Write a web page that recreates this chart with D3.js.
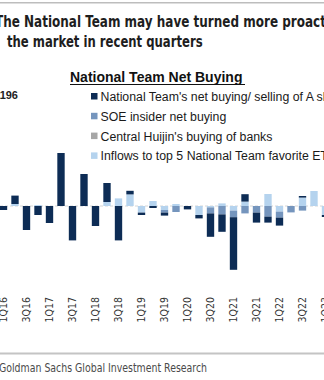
<!DOCTYPE html>
<html lang="en">
    <head>
        <meta charset="utf-8">
        <title>National Team Net Buying</title>
        <script type="text/javascript" src="https://cdn.jsdelivr.net/npm/d3@7"></script>
        <style>
            body { margin: 0; background: #fff; overflow: hidden; }
            svg { display: block; }
        </style>
    </head>
    <body>
        <div class="chart"></div>
        <script type="text/javascript">
            // quarters shown (RMB bn)
            var quarters = ["1Q16","2Q16","3Q16","4Q16","1Q17","2Q17","3Q17","4Q17",
                            "1Q18","2Q18","3Q18","4Q18","1Q19","2Q19","3Q19","4Q19",
                            "1Q20","2Q20","3Q20","4Q20","1Q21","2Q21","3Q21","4Q21",
                            "1Q22","2Q22","3Q22","4Q22","1Q23"];
            var nationalTeam = [-20, 42, -120, -45, -85, 265, -172, 160,
                                -100, 95, -172, 18, -12, -10, -15, 0,
                                -17, -17, -117, -87, -263, 37, -50, -30,
                                -40, 0, 8, 0, -10];
            var soeInsider = [0, 0, 0, 0, 0, 0, 0, 0,
                              0, 0, 0, 0, 0, 0, -13, -30,
                              0, 0, -30, -42, -33, -37, -33, -53,
                              -30, -32, -23, 0, 0];
            var huijinBanks = [0, 0, 0, 0, 0, 0, 0, 0,
                               0, 0, 0, 0, 0, 0, 0, 0,
                               0, 0, 0, 0, 0, 0, 0, 0,
                               0, 0, 0, 0, 0];
            var etfInflows = [0, 10, 0, 5, 0, 0, 0, 0,
                              0, 20, 38, 58, -33, 25, -20, 10,
                              0, -45, -7, 13, -23, 22, 0, 60,
                              -28, 0, 42, 75, -45];
            var seriesNames = ["National Team's net buying/ selling of A shares",
                               "SOE insider net buying",
                               "Central Huijin's buying of banks",
                               "Inflows to top 5 National Team favorite ETFs"];
            var seriesColors = ["#0d2c55", "#7595bd", "#a6a6a6", "#b5d3ee"];

            var w = 324;
            var h = 380;
            var narrow = "'Liberation Sans Narrow', 'Arial Narrow', 'DejaVu Sans Condensed', sans-serif";

            var svg = d3.select("div.chart")
                        .append("svg")
                        .attr("width", w)
                        .attr("height", h);

            // top rule
            svg.append("rect").attr("x", 0).attr("y", 2).attr("width", w).attr("height", 1.5).attr("fill", "#bdbdbd");

            // title (condensed look, squeezed sideways)
            svg.append("text")
               .attr("transform", "translate(-5,26.5) scale(0.835,1)")
               .attr("font-family", narrow).attr("font-weight", "bold").attr("font-size", "16px")
               .attr("fill", "#1e1e1e")
               .text("The National Team may have turned more proactive in");
            svg.append("text")
               .attr("transform", "translate(7,46.5) scale(0.81,1)")
               .attr("font-family", narrow).attr("font-weight", "bold").attr("font-size", "16px")
               .attr("fill", "#1e1e1e")
               .text("the market in recent quarters");

            // build table for stacking
            var table = quarters.map(function(q, i){
                return {q: q, nt: nationalTeam[i], soe: soeInsider[i], hj: huijinBanks[i], etf: etfInflows[i]};
            });
            var keys = ["etf", "soe", "hj", "nt"];
            var keyColor = {nt: seriesColors[0], soe: seriesColors[1], hj: seriesColors[2], etf: seriesColors[3]};
            var stacked = d3.stack().keys(keys).offset(d3.stackOffsetDiverging)(table);

            var x = d3.scaleBand()
                      .domain(quarters)
                      .range([-2.25, -2.25 + quarters.length * 11.5])
                      .paddingInner(0.36)
                      .paddingOuter(0.18);
            var y = d3.scaleLinear()
                      .domain([-300, 300])
                      .range([266, 146]);

            // zero line
            svg.append("line")
               .attr("x1", 0).attr("x2", w)
               .attr("y1", y(0)).attr("y2", y(0))
               .attr("stroke", "#d6d6d6").attr("stroke-width", 1)
               .attr("stroke-dasharray", "3,2");

            svg.append("g")
               .selectAll("g")
               .data(stacked)
               .enter()
               .append("g")
               .attr("fill", function(s){ return keyColor[s.key]; })
               .selectAll("rect")
               .data(function(s){ return s; })
               .enter()
               .append("rect")
               .attr("x", function(d){ return x(d.data.q); })
               .attr("y", function(d){ return y(Math.max(d[0], d[1])); })
               .attr("width", x.bandwidth())
               .attr("height", function(d){ return Math.abs(y(d[0]) - y(d[1])); });

            // annotation for the clipped bar on the left
            svg.append("text")
               .attr("x", 18).attr("y", 99)
               .attr("text-anchor", "end")
               .attr("font-family", "'Liberation Sans', Arial, sans-serif")
               .attr("font-weight", "bold").attr("font-size", "11px")
               .attr("fill", "#222")
               .text("1196");

            // legend
            svg.append("text")
               .attr("x", 70).attr("y", 82)
               .attr("font-family", "'Liberation Sans', Arial, sans-serif")
               .attr("font-weight", "bold").attr("font-size", "14px")
               .attr("fill", "#111")
               .text("National Team Net Buying");
            svg.append("line")
               .attr("x1", 70).attr("x2", 245).attr("y1", 84.5).attr("y2", 84.5)
               .attr("stroke", "#111").attr("stroke-width", 1);

            var legend = svg.append("g")
                            .selectAll("g")
                            .data(seriesNames)
                            .enter()
                            .append("g")
                            .attr("transform", function(d, i){ return "translate(91," + (96.5 + i * 19.8) + ")"; });
            legend.append("rect")
                  .attr("x", 0).attr("y", -3.5)
                  .attr("width", 6.5).attr("height", 6.5)
                  .attr("fill", function(d, i){ return seriesColors[i]; });
            legend.append("text")
                  .attr("x", 9.5).attr("y", 0).attr("dy", "0.36em")
                  .attr("font-family", "'Liberation Sans', Arial, sans-serif")
                  .attr("font-size", "12.3px")
                  .attr("fill", "#1a1a1a")
                  .text(function(d){ return d; });

            // x labels, every other quarter
            var ticks = quarters.filter(function(q, i){ return i % 2 === 0; });
            svg.append("g")
               .selectAll("text")
               .data(ticks)
               .enter()
               .append("text")
               .attr("transform", function(d){ return "translate(" + (x(d) + x.bandwidth() / 2) + ",297) rotate(-90)"; })
               .attr("text-anchor", "end")
               .attr("dy", "0.36em")
               .attr("font-family", narrow)
               .attr("font-size", "10.5px")
               .attr("fill", "#333")
               .text(function(d){ return d; });

            // bottom rule and source
            svg.append("rect").attr("x", 0).attr("y", 352.5).attr("width", w).attr("height", 2).attr("fill", "#c4c4c4");
            svg.append("text")
               .attr("transform", "translate(-1,372) scale(0.87,1)")
               .attr("font-family", narrow)
               .attr("font-size", "12px")
               .attr("fill", "#4a4a4a")
               .text("Goldman Sachs Global Investment Research");
        </script>
    </body>
</html>
